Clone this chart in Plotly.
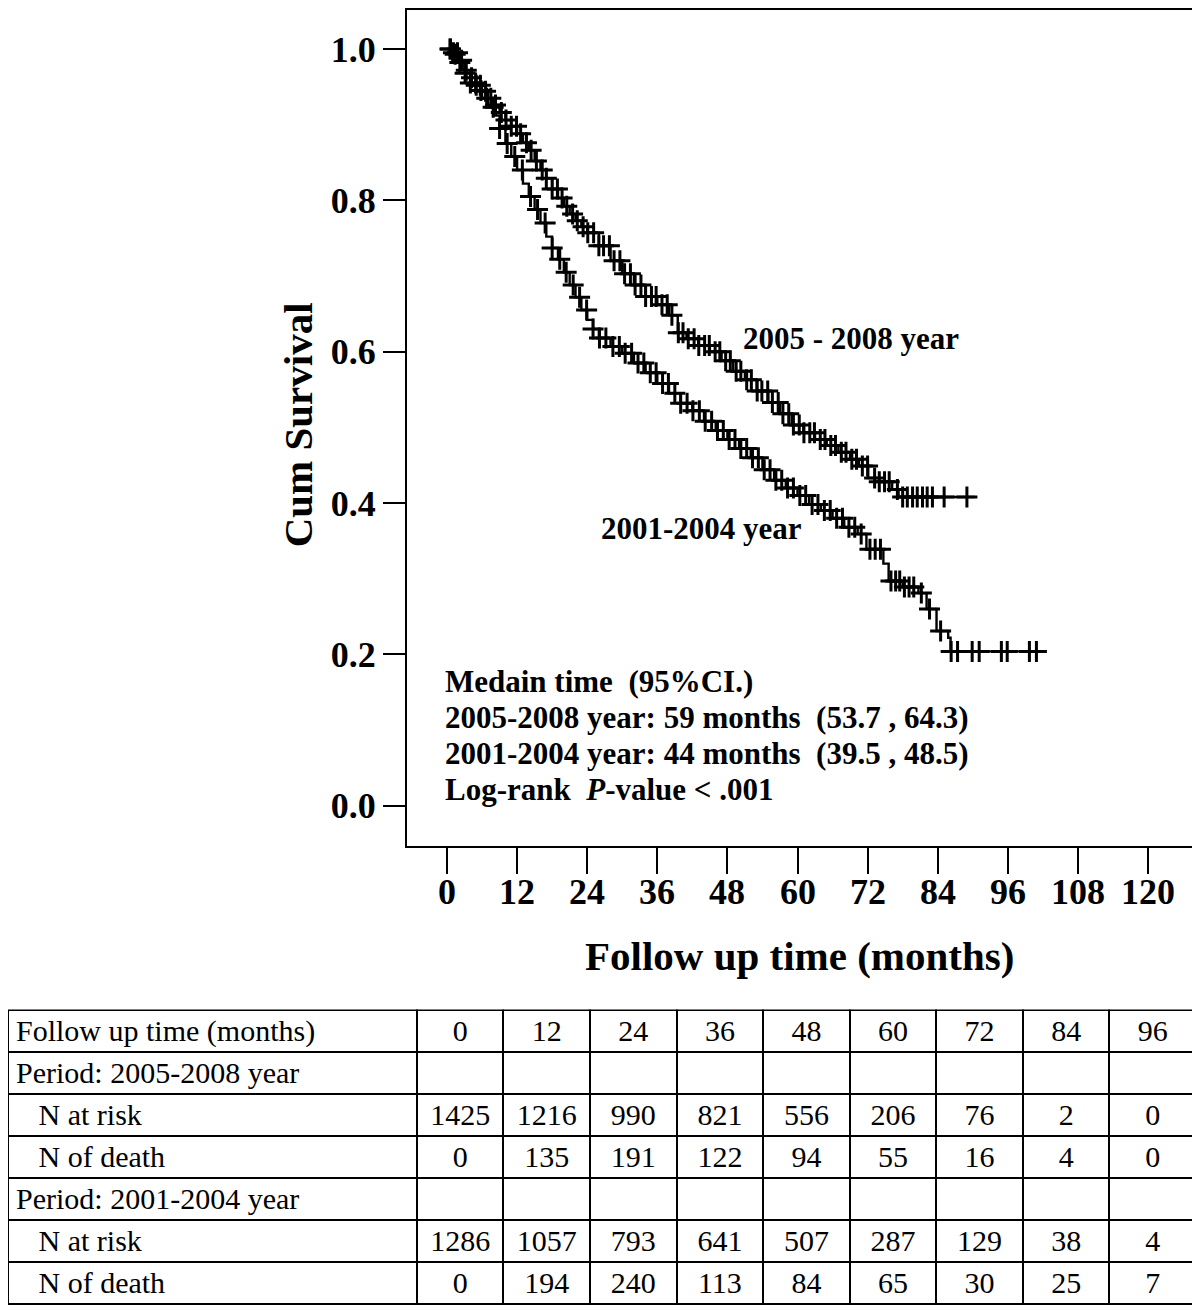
import numpy as np
import plotly.graph_objects as go

# ---------------- Data ----------------
# Kaplan-Meier step curve, period 2005-2008
t_0508 = [0, 1, 2, 3, 4, 5, 6, 7, 8, 9, 10, 11, 12, 13, 14, 15, 16, 17, 18, 19, 20, 21, 22, 23, 24,
          26, 28, 30, 32, 34, 36, 38, 39.5, 41, 43, 45, 47, 49, 51, 53, 55, 57, 59, 61, 63, 65, 67,
          69, 70.5, 72.1, 74, 76.2, 77.3, 90.3]
s_0508 = [1.0, 0.995, 0.985, 0.972, 0.962, 0.952, 0.944, 0.935, 0.926, 0.916, 0.906, 0.898, 0.888,
          0.876, 0.866, 0.852, 0.840, 0.829, 0.815, 0.803, 0.792, 0.782, 0.773, 0.765, 0.757,
          0.740, 0.720, 0.703, 0.688, 0.673, 0.662, 0.648, 0.625, 0.617, 0.608, 0.600, 0.588,
          0.574, 0.563, 0.548, 0.533, 0.518, 0.503, 0.493, 0.484, 0.476, 0.467, 0.458, 0.449,
          0.433, 0.428, 0.418, 0.408, 0.408]
cens_0508 = [0.5, 1.1, 1.8, 2.5, 3.3, 4.2, 5.0, 5.7, 6.6, 7.5, 8.3, 9.3, 10.1, 11.0, 11.9, 12.6,
             13.6, 14.4, 15.3, 16.3, 17.0, 18.0, 18.9, 19.7, 20.5, 21.5, 22.3, 23.3, 24.1, 25.1,
             26.0, 26.8, 27.8, 28.6, 29.6, 30.4, 31.4, 32.2, 33.2, 34.0, 35.0, 35.8, 36.8, 37.7,
             38.5, 39.6, 40.4, 41.3, 42.3, 43.1, 44.1, 44.9, 45.9, 46.7, 47.7, 48.5, 49.5, 50.3,
             51.3, 52.1, 53.1, 53.9, 54.9, 55.7, 56.7, 57.5, 58.5, 59.3, 60.3, 61.1, 62.1, 62.9,
             63.9, 64.7, 65.7, 66.5, 67.5, 68.3, 69.3, 70.1, 71.1, 72.0, 73.2, 74.0, 74.9, 75.7,
             77.1, 78.0, 78.8, 79.7, 80.5, 81.4, 82.2, 83.1, 85.1, 89.0]

# Kaplan-Meier step curve, period 2001-2004
t_0104 = [0, 1, 2, 3, 4, 5, 6, 7, 8, 9, 10, 11, 12, 13, 14, 15, 16, 17, 18, 19, 20, 21, 22, 23, 24,
          25, 26, 28, 30, 32, 34, 36, 38, 40, 42, 44, 46, 48, 50, 52, 54, 56, 58, 60, 62, 64, 66,
          68, 70.3, 71.8, 74.7, 75.6, 78, 80.7, 82.1, 83.8, 85.8, 86.2, 101.7]
s_0104 = [1.0, 0.993, 0.982, 0.968, 0.955, 0.945, 0.935, 0.923, 0.912, 0.895, 0.875, 0.858, 0.840,
          0.822, 0.805, 0.788, 0.770, 0.752, 0.737, 0.722, 0.705, 0.688, 0.672, 0.655, 0.642,
          0.630, 0.618, 0.607, 0.598, 0.585, 0.572, 0.558, 0.545, 0.532, 0.522, 0.508, 0.496,
          0.484, 0.472, 0.460, 0.444, 0.430, 0.420, 0.410, 0.398, 0.390, 0.380, 0.368, 0.359,
          0.339, 0.320, 0.297, 0.289, 0.281, 0.260, 0.231, 0.222, 0.204, 0.204]
cens_0104 = [0.6, 1.4, 2.2, 3.1, 4.0, 4.9, 5.8, 6.8, 7.9, 9.0, 10.3, 11.6, 12.9, 14.3, 15.5, 16.8,
             18.0, 19.3, 20.4, 21.6, 22.7, 23.9, 25.0, 26.1, 27.2, 28.4, 29.5, 30.5, 31.6, 32.7,
             33.7, 34.8, 35.8, 36.9, 37.9, 39.0, 40.0, 41.1, 42.1, 43.2, 44.2, 45.3, 46.3, 47.3,
             48.3, 49.3, 50.3, 51.3, 52.3, 53.3, 54.3, 55.3, 56.3, 57.3, 58.3, 59.3, 60.4, 61.4,
             62.5, 63.5, 64.6, 65.6, 66.7, 67.7, 68.8, 69.8, 70.9, 72.4, 73.3, 74.2, 76.0, 76.8,
             77.5, 78.3, 79.1, 79.9, 81.2, 82.6, 84.5, 86.3, 87.4, 89.9, 91.1, 94.9, 95.9, 99.7,
             100.9]

# Number-at-risk table
table_months = [0, 12, 24, 36, 48, 60, 72, 84, 96]
risk_0508 = [1425, 1216, 990, 821, 556, 206, 76, 2, 0]
death_0508 = [0, 135, 191, 122, 94, 55, 16, 4, 0]
risk_0104 = [1286, 1057, 793, 641, 507, 287, 129, 38, 4]
death_0104 = [0, 194, 240, 113, 84, 65, 30, 25, 7]

x_ticks = [0, 12, 24, 36, 48, 60, 72, 84, 96, 108, 120]
y_ticks = [0.0, 0.2, 0.4, 0.6, 0.8, 1.0]

# ---------------- Figure ----------------
# page body has an 8px margin: figure drawn at (8, 8)
OX, OY = 8, 8
W, H = 1192, 1304
SERIF = "Liberation Serif"


def pxx(xp):
    return min(max((xp - OX) / W, 0.0), 1.0)


def pxy(yp):
    return min(max(1 - (yp - OY) / H, 0.0), 1.0)


def step_value(times, surv, q):
    idx = np.searchsorted(np.asarray(times), np.asarray(q), side="right") - 1
    return np.asarray(surv)[idx]


fig = go.Figure()
for t, s, c in [(t_0508, s_0508, cens_0508), (t_0104, s_0104, cens_0104)]:
    fig.add_trace(go.Scatter(x=t, y=s, mode="lines", line=dict(color="black", width=2.4, shape="hv"),
                             showlegend=False, hoverinfo="skip"))
    fig.add_trace(go.Scatter(x=c, y=step_value(t, s, c), mode="markers",
                             marker=dict(symbol="cross-thin", size=15, color="black",
                                         line=dict(color="black", width=3)),
                             showlegend=False, hoverinfo="skip"))

# plot area in page pixels (top clamped to the figure's top edge)
L, R, T, B = 407, 1193, 8, 845
# y: 1.0 at 47 px, 0.0 at 805 px ; x: 0 at 447 px, 120 at 1148 px
y_top = (805 - T) / 758
y_bot = (805 - B) / 758
x_lo = (L - 447) / (701 / 120)
x_hi = 120 + (R - 1148) / (701 / 120)

fig.update_layout(
    width=W, height=H, margin=dict(l=0, r=0, t=0, b=0),
    paper_bgcolor="white", plot_bgcolor="white", showlegend=False,
    xaxis=dict(domain=[pxx(L), pxx(R)], range=[x_lo, x_hi], tickvals=x_ticks,
               ticks="outside", ticklen=26, tickwidth=2, tickcolor="black",
               showticklabels=False,
               showline=True, linewidth=2, linecolor="black", mirror=True,
               showgrid=False, zeroline=False),
    yaxis=dict(domain=[pxy(B), pxy(T)], range=[y_bot, y_top], tickvals=y_ticks,
               tickformat=".1f", ticks="outside", ticklen=22, tickwidth=2, tickcolor="black",
               showline=True, linewidth=2, linecolor="black", mirror=True,
               showgrid=False, zeroline=False,
               tickfont=dict(family=SERIF, size=36, color="black", weight="bold")),
)

# x tick labels (placed closer to the ticks than the default)
tickfont = dict(family=SERIF, size=36, color="black", weight="bold")
for v in x_ticks:
    fig.add_annotation(text=str(v), x=v, xref="x", y=pxy(891), yref="paper",
                       xanchor="center", yanchor="middle", showarrow=False, font=tickfont)

bold = dict(family=SERIF, size=31, color="black", weight="bold")
# axis titles
fig.add_annotation(text="Cum Survival", xref="paper", yref="paper", x=pxx(298), y=pxy(424),
                   xanchor="center", yanchor="middle", textangle=-90, showarrow=False,
                   font=dict(family=SERIF, size=41, color="black", weight="bold"))
fig.add_annotation(text="Follow up time (months)", xref="paper", yref="paper", x=pxx(799), y=pxy(955),
                   xanchor="center", yanchor="middle", showarrow=False,
                   font=dict(family=SERIF, size=41, color="black", weight="bold"))

# curve labels
fig.add_annotation(text="2005 - 2008 year", x=69.2, y=0.617, xref="x", yref="y",
                   xanchor="center", yanchor="middle", showarrow=False, font=bold)
fig.add_annotation(text="2001-2004 year", x=43.6, y=0.367, xref="x", yref="y",
                   xanchor="center", yanchor="middle", showarrow=False, font=bold)

# median text block
lines = ["Medain time \u00a0(95%CI.)",
         "2005-2008 year: 59 months \u00a0(53.7 , 64.3)",
         "2001-2004 year: 44 months \u00a0(39.5 , 48.5)",
         "Log-rank \u00a0<i>P</i>-value &lt; .001"]
line_y = [0.164, 0.116, 0.069, 0.022]
for txt, yy in zip(lines, line_y):
    fig.add_annotation(text=txt, x=-0.75, y=yy, xref="x", yref="y", xanchor="left",
                       yanchor="middle", showarrow=False, font=bold)

# ---------------- Table ----------------
indent = "\u00a0" * 3
first_col = ["Period: 2005-2008 year", indent + "N at risk", indent + "N of death",
             "Period: 2001-2004 year", indent + "N at risk", indent + "N of death"]
cols = [first_col]
for i in range(len(table_months)):
    cols.append(["", risk_0508[i], death_0508[i], "", risk_0104[i], death_0104[i]])

tfont = dict(family=SERIF, size=30, color="black")
fig.add_trace(go.Table(
    domain=dict(x=[pxx(4), pxx(1196)], y=[0, pxy(1010)]),
    columnwidth=[411] + [87] * len(table_months),
    header=dict(values=["Follow up time (months)"] + [str(m) for m in table_months],
                align=["left"] + ["center"] * len(table_months),
                line=dict(color="black", width=2), fill=dict(color="white"),
                font=tfont, height=42),
    cells=dict(values=cols, align=["left"] + ["center"] * len(table_months),
               line=dict(color="black", width=2), fill=dict(color="white"),
               font=tfont, height=42),
))

fig.write_html("out.html")
